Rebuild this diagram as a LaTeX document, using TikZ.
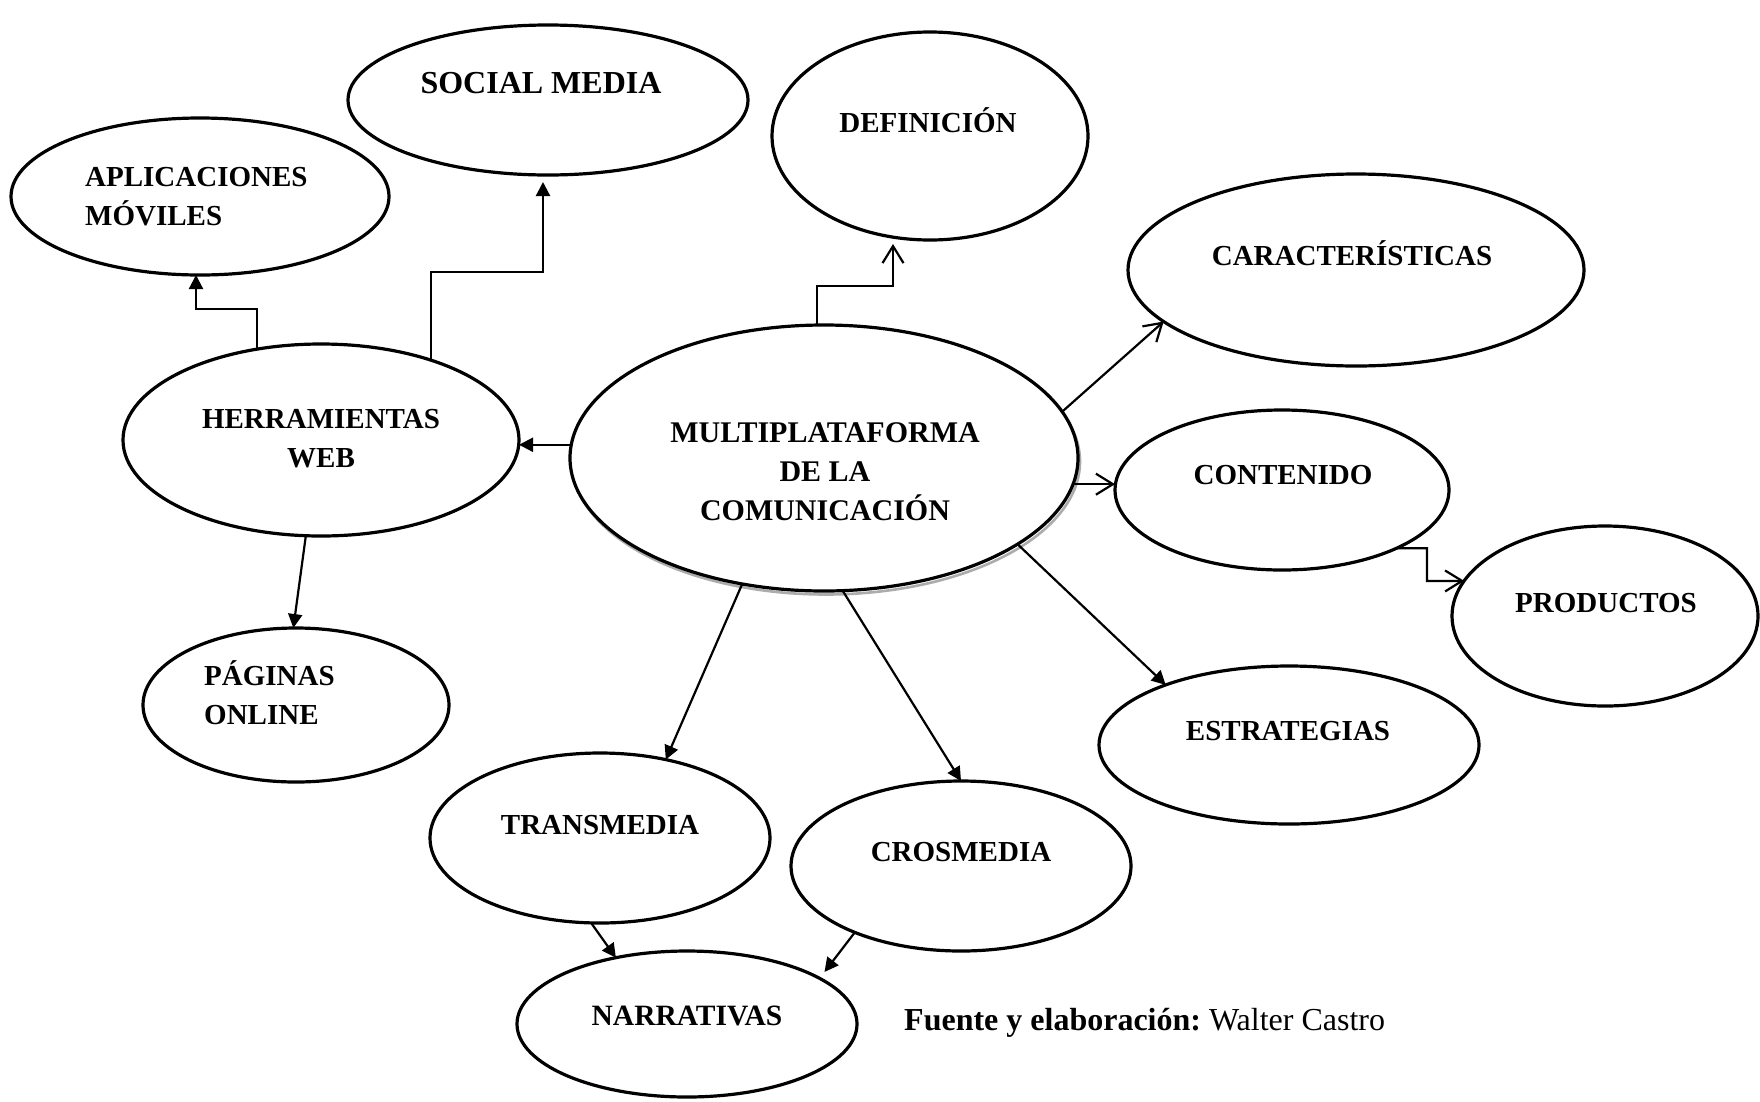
\documentclass[tikz,border=0pt]{standalone}
\usepackage{fontspec}
\setmainfont{Liberation Serif}
\usetikzlibrary{shapes.geometric,arrows.meta}
\frenchspacing

\tikzset{
  oval/.style={ellipse, draw, line width=3.2pt, fill=white, inner sep=0pt, outer sep=0pt},
  lbl/.style={font=\fontsize{29}{39}\selectfont\bfseries, inner sep=0pt, text height=19.2pt, text depth=0pt},
  lblm/.style={font=\fontsize{29}{39}\selectfont\bfseries, inner sep=0pt},
  conn/.style={line width=2.2pt, line join=miter},
  fa/.style={conn, -{Triangle[length=14pt,width=14pt]}},
  oa/.style={conn, -{Straight Barb[length=17pt,width=21pt,line width=2.2pt]}}
}

\begin{document}
\begin{tikzpicture}[x=1pt, y=-1pt]
  % canvas
  \fill[white] (0,0) rectangle (1760,1101);
  \useasboundingbox (0,0) rectangle (1760,1101);

  % concept ovals
  \node[oval, minimum width=378pt, minimum height=157pt] (apl)   at (200,196.5) {};
  \node[oval, minimum width=400pt, minimum height=150pt] (soc)   at (548,100) {};
  \node[oval, minimum width=316pt, minimum height=208pt] (def)   at (930,136) {};
  \node[oval, minimum width=456pt, minimum height=192pt] (car)   at (1356,270) {};
  \node[oval, minimum width=396pt, minimum height=192pt] (herr)  at (321,440) {};
  \node[ellipse, draw=gray!65, line width=2.6pt, inner sep=0pt, outer sep=0pt,
        minimum width=508pt, minimum height=266pt] (multishadow) at (826,461.5) {};
  \node[oval, minimum width=508pt, minimum height=266pt] (multi) at (824,458) {};
  \node[oval, minimum width=334pt, minimum height=160pt] (cont)  at (1282,490) {};
  \node[oval, minimum width=306pt, minimum height=180pt] (prod)  at (1605,616) {};
  \node[oval, minimum width=306pt, minimum height=154pt] (pag)   at (296,705) {};
  \node[oval, minimum width=380pt, minimum height=158pt] (est)   at (1289,745) {};
  \node[oval, minimum width=340pt, minimum height=170pt] (trans) at (600,838) {};
  \node[oval, minimum width=340pt, minimum height=170pt] (cros)  at (961,866) {};
  \node[oval, minimum width=340pt, minimum height=146pt] (narr)  at (687,1024) {};

  % bend points of the elbow connectors
  \coordinate (aplbend) at (196,309);
  \coordinate (socbend) at (543,272);
  \coordinate (defbend) at (893,286);
  \coordinate (prodbend) at (1427,581);

  % connectors
  \draw[fa] (herr.125) |- (aplbend) -- (aplbend |- apl.south);
  \draw[fa, shorten >=7pt] (herr.36) |- (socbend) -- (socbend |- soc.south);
  \draw[fa] (herr.261) -- (pag.92);
  \draw[fa] (multi.177) -- (multi.177 -| herr.east);
  \draw[oa, shorten >=4pt] (multi.93) |- (defbend) -- (defbend |- def.south);
  \draw[oa] (multi.11) -- (car.195);
  \draw[oa] (multi.-6) -- (multi.-6 -| cont.west);
  \draw[oa] (cont.-27) -| (prodbend) -- (prod.166);
  \draw[fa] (multi.-24) -- (est.154);
  \draw[fa] (multi.237) -- (trans.50);
  \draw[fa] (multi.-82) -- (cros.north);
  \draw[fa] (trans.264) -- (narr.137);
  \draw[fa, shorten >=8pt] (cros.212) -- (narr.19);

  % labels
  \node[lblm, align=left, anchor=west] (t-apl) at (85,197) {APLICACIONES\\MÓVILES};
  \node[lbl, font=\fontsize{32}{39}\selectfont\bfseries, text height=21.2pt] (t-soc) at (541,83) {SOCIAL MEDIA};
  \node[lbl] (t-def) at (928,123) {DEFINICIÓN};
  \node[lbl] (t-car) at (1352,256) {CARACTERÍSTICAS};
  \node[lblm, align=center] (t-herr) at (321,439) {HERRAMIENTAS\\WEB};
  \node[lblm, align=center, font=\fontsize{30}{39}\selectfont\bfseries] (t-multi) at (825,471.5) {MULTIPLATAFORMA\\DE LA\\COMUNICACIÓN};
  \node[lbl] (t-cont) at (1283,475) {CONTENIDO};
  \node[lbl] (t-prod) at (1606,603) {PRODUCTOS};
  \node[lblm, align=left, anchor=west] (t-pag) at (204,693) {PÁGINAS\\ONLINE};
  \node[lbl] (t-est) at (1288,731) {ESTRATEGIAS};
  \node[lbl] (t-trans) at (600,825) {TRANSMEDIA};
  \node[lbl] (t-cros) at (961,852) {CROSMEDIA};
  \node[lbl, font=\fontsize{29.5}{39}\selectfont\bfseries] (t-narr) at (687,1016) {NARRATIVAS};

  % source line
  \node[inner sep=0pt, anchor=base west, font=\fontsize{32}{38}\selectfont] (fuente) at (904,1030)
    {\textbf{Fuente y elaboración:} Walter Castro};
\end{tikzpicture}
\end{document}
